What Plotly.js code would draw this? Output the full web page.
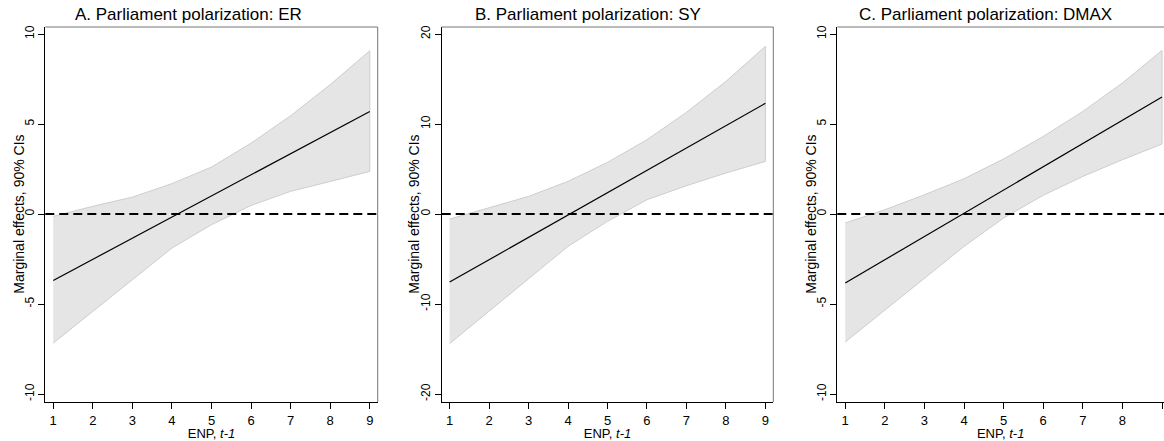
<!DOCTYPE html>
<html>
<head>
<meta charset="utf-8">
<script src="https://cdn.plot.ly/plotly-3.0.1.min.js"></script>
<style>html,body{margin:0;padding:0;overflow:hidden;background:#fff}</style>
</head>
<body>
<div id="chart" style="width:1164px;height:441px"></div>
<script>
// ENP, t-1
const enp = [1, 2, 3, 4, 5, 6, 7, 8, 9];

// Panel A: ER
const erME    = [-3.69, -2.52, -1.34, -0.17, 1.01, 2.18, 3.35, 4.53, 5.70];
const erUpper = [-0.13, 0.43, 0.94, 1.69, 2.61, 3.94, 5.46, 7.19, 9.07];
const erLower = [-7.17, -5.41, -3.65, -1.89, -0.59, 0.48, 1.26, 1.81, 2.37];

// Panel B: SY
const syME    = [-7.56, -5.08, -2.59, -0.11, 2.37, 4.85, 7.34, 9.82, 12.30];
const syUpper = [-0.56, 0.67, 1.96, 3.63, 5.74, 8.26, 11.30, 14.74, 18.63];
const syLower = [-14.40, -10.80, -7.19, -3.59, -0.81, 1.59, 3.15, 4.56, 5.85];

// Panel C: DMAX
const dmME    = [-3.83, -2.54, -1.25, 0.04, 1.34, 2.63, 3.92, 5.21, 6.50];
const dmUpper = [-0.50, 0.24, 1.07, 1.96, 3.06, 4.31, 5.70, 7.28, 9.09];
const dmLower = [-7.11, -5.31, -3.56, -1.80, -0.22, 1.04, 2.09, 3.02, 3.89];

const titles = ["A. Parliament polarization: ER", "B. Parliament polarization: SY", "C. Parliament polarization: DMAX"];
const yTitle = "Marginal effects, 90% CIs";
const xTitle = "ENP, <i>t-1</i>";
const yTicksAC = [-10, -5, 0, 5, 10];
const yTicksB = [-20, -10, 0, 10, 20];

const W = 1164;
const panels = [
  {me: erME, up: erUpper, lo: erLower, dom: [45.3 / W, 377.7 / W], xr: [0.8, 9.2], yr: [-10.44, 10.39], yt: yTicksAC, tx: 188 / W, yx: 19 / W, right: true},
  {me: syME, up: syUpper, lo: syLower, dom: [441.7 / W, 773.3 / W], xr: [0.8, 9.2], yr: [-20.88, 20.78], yt: yTicksB, tx: 588 / W, yx: 414 / W, right: true},
  {me: dmME, up: dmUpper, lo: dmLower, dom: [837.3 / W, 1], xr: [0.8, 9.05], yr: [-10.44, 10.39], yt: yTicksAC, tx: 985 / W, yx: 811 / W, right: false}
];

const font = {family: "Liberation Sans, Arial, sans-serif", color: "#000", size: 13};
const traces = [];
const layout = {
  width: 1164, height: 441,
  margin: {l: 0, r: 0, t: 27, b: 39},
  paper_bgcolor: "#fff", plot_bgcolor: "#fff",
  showlegend: false, font: font,
  shapes: [], annotations: []
};

panels.forEach((p, i) => {
  const n = i === 0 ? "" : String(i + 1);
  const xa = "x" + n, ya = "y" + n;
  traces.push({
    x: enp.concat(enp.slice().reverse()),
    y: p.up.concat(p.lo.slice().reverse()),
    xaxis: xa, yaxis: ya,
    type: "scatter", mode: "lines", fill: "toself",
    fillcolor: "rgb(229,229,229)",
    line: {color: "rgb(205,205,205)", width: 1},
    hoverinfo: "skip"
  });
  traces.push({
    x: enp, y: p.me, xaxis: xa, yaxis: ya,
    type: "scatter", mode: "lines",
    line: {color: "#000", width: 1.2}
  });
  layout["xaxis" + n] = {
    domain: p.dom, anchor: ya, range: p.xr,
    tickvals: enp, ticktext: enp.map(String),
    ticks: "outside", ticklen: 6, tickcolor: "#000", tickwidth: 1,
    showline: true, linecolor: "#000", linewidth: 1,
    showgrid: false, zeroline: false,
    tickfont: {size: 13, color: "#000"},
    title: {text: xTitle, font: {size: 13, color: "#000"}, standoff: 0}
  };
  layout["yaxis" + n] = {
    domain: [0, 1], anchor: xa, range: p.yr,
    tickvals: p.yt, ticktext: p.yt.map(String), tickangle: -90,
    ticks: "outside", ticklen: 6, tickcolor: "#000", tickwidth: 1,
    showline: true, linecolor: "#000", linewidth: 1,
    showgrid: false, zeroline: false,
    tickfont: {size: 12, color: "#000"}
  };
  // zero reference line
  layout.shapes.push({
    type: "line", xref: xa + " domain", yref: ya,
    x0: 0, x1: 1, y0: 0, y1: 0,
    line: {color: "#000", width: 2, dash: "9px,5px"}
  });
  // top frame
  layout.shapes.push({
    type: "line", xref: xa + " domain", yref: ya + " domain",
    x0: 0, x1: 1, y0: 1, y1: 1,
    line: {color: "#777", width: 1}
  });
  if (p.right) {
    layout.shapes.push({
      type: "line", xref: xa + " domain", yref: ya + " domain",
      x0: 1, x1: 1, y0: 0, y1: 1,
      line: {color: "#777", width: 1}
    });
  }
  layout.annotations.push({
    text: titles[i], xref: "paper", yref: "paper",
    x: p.tx, y: (402 - 15) / 375, xanchor: "center", yanchor: "middle",
    showarrow: false, font: {size: 17, color: "#000"}
  });
  layout.annotations.push({
    text: yTitle, xref: "paper", yref: "paper", textangle: -90,
    x: p.yx, y: (402 - 214.7) / 375, xanchor: "center", yanchor: "middle",
    showarrow: false, font: {size: 14, color: "#000"}
  });
});

Plotly.newPlot("chart", traces, layout, {displayModeBar: false, staticPlot: true});
</script>
</body>
</html>
